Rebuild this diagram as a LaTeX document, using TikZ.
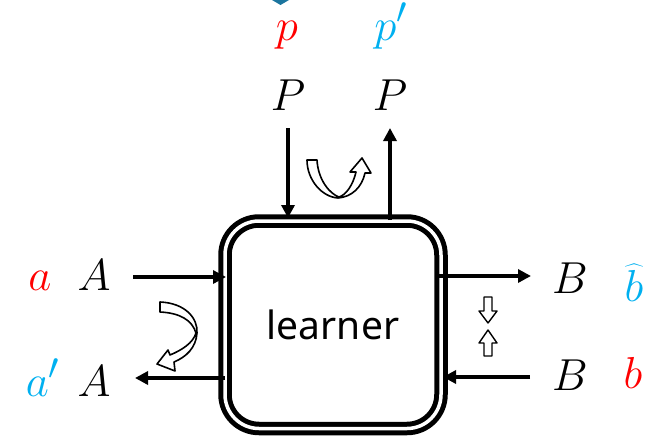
\documentclass[tikz,border=0pt]{standalone}
\usepackage{fontspec}
\newfontfamily\lfont{Noto Sans}
\usetikzlibrary{arrows.meta}
\definecolor{myred}{RGB}{255,0,0}
\definecolor{myblue}{RGB}{0,176,240}
\definecolor{tealmark}{RGB}{27,117,158}
\begin{document}
\begin{tikzpicture}[x=1pt,y=-1pt,
  arr/.style={line width=3.4pt,-{Triangle[length=13pt,width=13pt]}},
  sym/.style={anchor=base,inner sep=0pt,font=\Huge,scale=1.8},
  blockarrow/.style={draw=black,fill=white,line width=1.6pt,line join=round}]
\useasboundingbox (0,0) rectangle (654,439);
% partial mark at top
\fill[tealmark] (272,0) -- (289,0) -- (280.5,5) -- cycle;
% learner box
\node[draw,double,double distance=3.5pt,line width=5pt,rounded corners=34,
      minimum width=216,minimum height=207.5,outer sep=0pt,inner sep=0pt,
      font=\lfont\fontsize{39}{44}\selectfont] (L) at (333,324.75) {learner};
% labels
\node[sym,text=myred]  (p)  at (287,40) {$p$};
\node[sym,text=myblue] (pp) at (391,40) {$p'$};
\node[sym] (P1) at (288,110) {$P$};
\node[sym] (P2) at (390,110) {$P$};
\node[sym,text=myred]  (a)  at (40,290) {$a$};
\node[sym] (A1) at (94,290) {$A$};
\node[sym,text=myblue] (ap) at (43,396) {$a'$};
\node[sym] (A2) at (94,396) {$A$};
\node[sym] (B1) at (570,293) {$B$};
\node[sym,text=myblue] (bh) at (634,301) {$\widehat{b}$};
\node[sym] (B2) at (570,390) {$B$};
\node[sym,text=myred]  (b)  at (633,388) {$b$};
% connector ends
\coordinate (inA)  at (133,277);
\coordinate (outA) at (135,378);
\coordinate (outB) at (531,276);
\coordinate (inB)  at (530,377);
% arrows
\draw[arr] ([yshift=-18pt]P1.base) -- ([yshift=3pt]P1.base |- L.north);
\draw[arr] ([yshift=1pt]P2.base |- L.north) -- ([yshift=-18pt]P2.base);
\draw[arr] (inA) -- ([xshift=1pt]inA -| L.west);
\draw[arr] (outA -| L.west) -- (outA);
\draw[arr] ([xshift=-2pt]outB -| L.east) -- (outB);
\draw[arr] (inB) -- ([xshift=2pt]inB -| L.east);
% curved block arrows
\draw[blockarrow] (307,160) .. controls (307,180) and (322,197) .. (338,198)
  .. controls (352,197) and (362,187) .. (365,173) -- (371,173) -- (362,158)
  -- (350,172) -- (356,172) .. controls (353,185) and (346,195) .. (339,197)
  .. controls (330,194) and (318,180) .. (317,160) -- cycle;
\draw[blockarrow] (160,302) .. controls (185,303) and (198,318) .. (197,333)
  .. controls (196,348) and (186,357) .. (174,362) -- (175,371) -- (157,364)
  -- (168,350) -- (170,355) .. controls (182,350) and (193,343) .. (196,333)
  .. controls (192,320) and (180,313) .. (160,312) -- cycle;
% small up/down block arrows
\draw[blockarrow,line width=1.4pt] (484,297) -- (492,297) -- (492,311) -- (497,311)
  -- (488,323) -- (479,311) -- (484,311) -- cycle;
\draw[blockarrow,line width=1.4pt] (484,356) -- (492,356) -- (492,343) -- (497,343)
  -- (488,330) -- (479,343) -- (484,343) -- cycle;
\end{tikzpicture}
\end{document}
